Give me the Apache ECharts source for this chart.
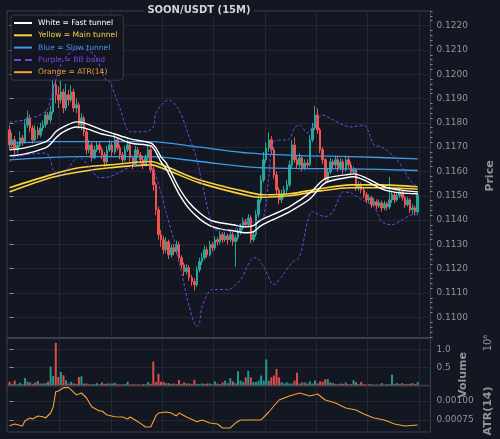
<!DOCTYPE html>
<html>
<head>
<meta charset="utf-8">
<script src="https://cdn.jsdelivr.net/npm/echarts@6/dist/echarts.min.js"></script>
<style>
  html, body { margin: 0; padding: 0; background: #131722; }
  #chart { width: 500px; height: 439px; }
</style>
</head>
<body>
<div id="chart"></div>
<script>
// one row per 15m candle: [open, close, low, high]
var candles = [
  [0.11771,0.11709,0.11690,0.11790],[0.11709,0.11730,0.11695,0.11760],[0.11730,0.11689,0.11670,0.11745],[0.11689,0.11709,0.11675,0.11725],
  [0.11709,0.11738,0.11700,0.11765],[0.11738,0.11722,0.11705,0.11750],[0.11722,0.11791,0.11715,0.11815],[0.11791,0.11820,0.11780,0.11850],
  [0.11820,0.11779,0.11760,0.11835],[0.11779,0.11730,0.11715,0.11790],[0.11730,0.11771,0.11722,0.11790],[0.11771,0.11750,0.11735,0.11785],
  [0.11750,0.11779,0.11740,0.11800],[0.11779,0.11791,0.11765,0.11810],[0.11791,0.11832,0.11780,0.11850],[0.11832,0.11812,0.11795,0.11845],
  [0.11812,0.11845,0.11800,0.11870],[0.11845,0.11956,0.11835,0.12025],[0.11956,0.11915,0.11880,0.12010],[0.11915,0.11894,0.11860,0.11950],
  [0.11894,0.11927,0.11880,0.11975],[0.11927,0.11861,0.11840,0.11940],[0.11861,0.11915,0.11850,0.11960],[0.11915,0.11894,0.11870,0.11935],
  [0.11894,0.11927,0.11885,0.11955],[0.11927,0.11861,0.11845,0.11940],[0.11861,0.11874,0.11840,0.11900],[0.11874,0.11791,0.11775,0.11885],
  [0.11791,0.11820,0.11770,0.11840],[0.11820,0.11763,0.11745,0.11830],[0.11763,0.11689,0.11670,0.11775],[0.11689,0.11709,0.11675,0.11730],
  [0.11709,0.11656,0.11640,0.11720],[0.11656,0.11689,0.11650,0.11705],[0.11689,0.11709,0.11680,0.11725],[0.11709,0.11689,0.11675,0.11720],
  [0.11689,0.11668,0.11650,0.11700],[0.11668,0.11639,0.11620,0.11680],[0.11639,0.11689,0.11630,0.11705],[0.11689,0.11709,0.11680,0.11730],
  [0.11709,0.11680,0.11660,0.11720],[0.11680,0.11730,0.11670,0.11750],[0.11730,0.11697,0.11685,0.11740],[0.11697,0.11668,0.11650,0.11710],
  [0.11668,0.11648,0.11630,0.11680],[0.11648,0.11689,0.11640,0.11705],[0.11689,0.11709,0.11680,0.11730],[0.11709,0.11656,0.11640,0.11720],
  [0.11656,0.11627,0.11610,0.11665],[0.11627,0.11689,0.11620,0.11705],[0.11689,0.11668,0.11655,0.11700],[0.11668,0.11648,0.11635,0.11680],
  [0.11648,0.11627,0.11610,0.11660],[0.11627,0.11656,0.11620,0.11670],[0.11656,0.11689,0.11645,0.11705],[0.11689,0.11607,0.11595,0.11700],
  [0.11607,0.11545,0.11520,0.11620],[0.11545,0.11442,0.11420,0.11555],[0.11442,0.11340,0.11320,0.11455],[0.11340,0.11319,0.11290,0.11360],
  [0.11319,0.11278,0.11260,0.11335],[0.11278,0.11311,0.11265,0.11330],[0.11311,0.11257,0.11240,0.11320],[0.11257,0.11286,0.11245,0.11300],
  [0.11286,0.11270,0.11255,0.11300],[0.11270,0.11299,0.11260,0.11315],[0.11299,0.11245,0.11230,0.11310],[0.11245,0.11216,0.11200,0.11255],
  [0.11216,0.11188,0.11170,0.11225],[0.11188,0.11204,0.11175,0.11220],[0.11204,0.11163,0.11150,0.11215],[0.11163,0.11147,0.11130,0.11175],
  [0.11147,0.11134,0.11110,0.11160],[0.11134,0.11196,0.11125,0.11210],[0.11196,0.11229,0.11185,0.11245],[0.11229,0.11245,0.11215,0.11265],
  [0.11245,0.11278,0.11235,0.11295],[0.11278,0.11257,0.11245,0.11290],[0.11257,0.11299,0.11250,0.11315],[0.11299,0.11286,0.11270,0.11310],
  [0.11286,0.11319,0.11275,0.11335],[0.11319,0.11311,0.11295,0.11330],[0.11311,0.11340,0.11300,0.11355],[0.11340,0.11319,0.11305,0.11350],
  [0.11319,0.11335,0.11310,0.11350],[0.11335,0.11319,0.11300,0.11345],[0.11319,0.11340,0.11310,0.11355],[0.11340,0.11311,0.11295,0.11350],
  [0.11311,0.11327,0.11208,0.11340],[0.11327,0.11352,0.11315,0.11365],[0.11352,0.11368,0.11340,0.11385],[0.11368,0.11393,0.11360,0.11410],
  [0.11393,0.11381,0.11370,0.11405],[0.11381,0.11409,0.11375,0.11425],[0.11409,0.11319,0.11305,0.11420],[0.11319,0.11340,0.11310,0.11355],
  [0.11340,0.11422,0.11330,0.11440],[0.11422,0.11483,0.11410,0.11500],[0.11483,0.11565,0.11470,0.11585],[0.11565,0.11648,0.11555,0.11680],
  [0.11648,0.11697,0.11635,0.11720],[0.11697,0.11730,0.11680,0.11760],[0.11730,0.11689,0.11670,0.11745],[0.11689,0.11586,0.11570,0.11700],
  [0.11586,0.11524,0.11505,0.11600],[0.11524,0.11483,0.11465,0.11535],[0.11483,0.11504,0.11470,0.11525],[0.11504,0.11524,0.11490,0.11540],
  [0.11524,0.11545,0.11510,0.11565],[0.11545,0.11627,0.11535,0.11645],[0.11627,0.11709,0.11615,0.11730],[0.11709,0.11648,0.11635,0.11740],
  [0.11648,0.11627,0.11610,0.11665],[0.11627,0.11656,0.11615,0.11675],[0.11656,0.11615,0.11600,0.11665],[0.11615,0.11635,0.11605,0.11650],
  [0.11635,0.11627,0.11610,0.11650],[0.11627,0.11730,0.11620,0.11750],[0.11730,0.11779,0.11720,0.11800],[0.11779,0.11832,0.11770,0.11870],
  [0.11832,0.11771,0.11755,0.11860],[0.11771,0.11689,0.11675,0.11780],[0.11689,0.11648,0.11630,0.11700],[0.11648,0.11565,0.11550,0.11655],
  [0.11565,0.11598,0.11555,0.11615],[0.11598,0.11639,0.11590,0.11655],[0.11639,0.11627,0.11610,0.11650],[0.11627,0.11648,0.11615,0.11665],
  [0.11648,0.11615,0.11600,0.11660],[0.11615,0.11639,0.11605,0.11655],[0.11639,0.11607,0.11590,0.11650],[0.11607,0.11648,0.11600,0.11665],
  [0.11648,0.11627,0.11615,0.11660],[0.11627,0.11598,0.11585,0.11640],[0.11598,0.11607,0.11590,0.11620],[0.11607,0.11533,0.11520,0.11615],
  [0.11533,0.11545,0.11520,0.11560],[0.11545,0.11524,0.11510,0.11555],[0.11524,0.11504,0.11490,0.11535],[0.11504,0.11483,0.11470,0.11515],
  [0.11483,0.11492,0.11470,0.11505],[0.11492,0.11463,0.11450,0.11500],[0.11463,0.11475,0.11455,0.11490],[0.11475,0.11459,0.11445,0.11485],
  [0.11459,0.11471,0.11450,0.11485],[0.11471,0.11450,0.11435,0.11480],[0.11450,0.11467,0.11440,0.11480],[0.11467,0.11454,0.11440,0.11475],
  [0.11454,0.11483,0.11445,0.11578],[0.11483,0.11504,0.11470,0.11520],[0.11504,0.11483,0.11470,0.11515],[0.11483,0.11500,0.11475,0.11515],
  [0.11500,0.11516,0.11490,0.11530],[0.11516,0.11492,0.11480,0.11525],[0.11492,0.11463,0.11450,0.11500],[0.11463,0.11483,0.11455,0.11495],
  [0.11483,0.11442,0.11430,0.11490],[0.11442,0.11450,0.11425,0.11465],[0.11450,0.11434,0.11420,0.11460],[0.11434,0.11504,0.11425,0.11520]
];

// volume in millions, one per candle
var volumes = [
  0.10,0.04,0.13,0.03,0.07,0.03,0.20,0.10,0.08,0.04,0.08,0.12,0.05,0.05,0.06,0.10,0.52,0.26,1.18,0.23,
  0.37,0.28,0.14,0.05,0.10,0.05,0.04,0.23,0.25,0.05,0.05,0.03,0.03,0.03,0.06,0.03,0.08,0.04,0.05,0.05,
  0.05,0.07,0.03,0.02,0.03,0.03,0.10,0.02,0.03,0.02,0.03,0.02,0.03,0.03,0.09,0.04,0.66,0.09,0.32,0.10,
  0.10,0.06,0.06,0.04,0.05,0.03,0.15,0.04,0.08,0.05,0.05,0.04,0.15,0.04,0.03,0.05,0.04,0.05,0.05,0.03,
  0.11,0.05,0.03,0.08,0.13,0.06,0.20,0.11,0.06,0.39,0.13,0.09,0.22,0.40,0.22,0.09,0.09,0.13,0.27,0.13,
  0.72,0.13,0.22,0.27,0.45,0.22,0.09,0.05,0.08,0.05,0.05,0.13,0.35,0.05,0.08,0.08,0.05,0.11,0.05,0.13,
  0.05,0.11,0.10,0.17,0.17,0.08,0.06,0.04,0.03,0.05,0.04,0.08,0.03,0.03,0.14,0.09,0.03,0.09,0.03,0.02,
  0.03,0.03,0.02,0.02,0.02,0.06,0.02,0.03,0.03,0.29,0.04,0.06,0.03,0.06,0.03,0.03,0.04,0.06,0.03,0.09
];

// indicator lines: [candle index, value]
var fastUpper = [[0,0.11689],[6,0.11697],[14,0.11722],[16,0.11738],[18,0.11763],[21,0.11783],[26,0.11804],[29,0.11800],[36,0.11771],[41,0.11754],[47,0.11734],[55,0.11717],[57,0.11697],[59,0.11660],[61,0.11635],[63,0.11594],[66,0.11533],[70,0.11471],[74,0.11430],[78,0.11401],[82,0.11389],[87,0.11381],[92,0.11372],[95,0.11377],[98,0.11401],[105,0.11434],[109,0.11454],[117,0.11512],[123,0.11570],[131,0.11586],[134,0.11590],[138,0.11578],[146,0.11537],[152,0.11524],[159,0.11516]];
var fastLower = [[0,0.11664],[6,0.11672],[14,0.11697],[16,0.11713],[18,0.11738],[21,0.11763],[26,0.11783],[29,0.11779],[36,0.11754],[41,0.11742],[47,0.11717],[55,0.11705],[57,0.11680],[59,0.11639],[61,0.11611],[63,0.11570],[66,0.11508],[70,0.11446],[74,0.11405],[78,0.11377],[82,0.11364],[87,0.11356],[92,0.11348],[95,0.11352],[98,0.11377],[105,0.11413],[109,0.11434],[117,0.11487],[123,0.11553],[131,0.11574],[134,0.11578],[138,0.11565],[146,0.11524],[152,0.11512],[159,0.11508]];
var mainUpper = [[0,0.11533],[16,0.11586],[27,0.11615],[39,0.11627],[55,0.11641],[61,0.11620],[74,0.11565],[94,0.11512],[99,0.11504],[109,0.11508],[121,0.11529],[133,0.11545],[144,0.11545],[159,0.11537]];
var mainLower = [[0,0.11516],[16,0.11574],[27,0.11598],[39,0.11615],[55,0.11627],[61,0.11607],[74,0.11553],[94,0.11498],[99,0.11494],[109,0.11500],[121,0.11520],[133,0.11533],[144,0.11533],[159,0.11527]];
var slowUpper = [[0,0.11716],[16,0.11723],[55,0.11723],[74,0.11700],[94,0.11675],[113,0.11665],[133,0.11661],[159,0.11652]];
var slowLower = [[0,0.11648],[27,0.11661],[55,0.11661],[74,0.11641],[94,0.11618],[113,0.11612],[133,0.11611],[159,0.11604]];
var bbUpper = [[0,0.11804],[6,0.11812],[14,0.11845],[16,0.11894],[18,0.11976],[21,0.12058],[27,0.12108],[33,0.12079],[37,0.11984],[39,0.11968],[43,0.11861],[47,0.11763],[53,0.11763],[56,0.11783],[57,0.11841],[60,0.11882],[62,0.11894],[66,0.11853],[70,0.11742],[73,0.11648],[75,0.11553],[78,0.11414],[80,0.11360],[87,0.11360],[92,0.11401],[94,0.11389],[96,0.11393],[99,0.11414],[101,0.11578],[103,0.11722],[109,0.11734],[111,0.11779],[113,0.11791],[116,0.11758],[119,0.11800],[122,0.11832],[126,0.11812],[133,0.11783],[138,0.11791],[142,0.11709],[145,0.11701],[151,0.11648],[156,0.11565],[159,0.11533]];
var bbLower = [[0,0.11639],[2,0.11660],[14,0.11676],[16,0.11648],[17,0.11607],[20,0.11586],[27,0.11660],[31,0.11619],[35,0.11574],[39,0.11578],[41,0.11586],[47,0.11619],[53,0.11635],[56,0.11607],[59,0.11512],[61,0.11430],[64,0.11319],[67,0.11184],[70,0.11044],[73,0.10962],[74,0.10978],[75,0.11044],[79,0.11114],[85,0.11114],[90,0.11155],[94,0.11237],[96,0.11245],[99,0.11208],[103,0.11134],[106,0.11167],[110,0.11225],[113,0.11249],[118,0.11434],[123,0.11414],[126,0.11434],[130,0.11516],[133,0.11512],[136,0.11492],[142,0.11454],[145,0.11393],[149,0.11381],[153,0.11401],[157,0.11422],[159,0.11422]];
var atr = [[0,0.000675],[2,0.000697],[5,0.000671],[6,0.000741],[8,0.000776],[9,0.000763],[11,0.000803],[13,0.000793],[14,0.000776],[16,0.000842],[17,0.000921],[18,0.001122],[19,0.001132],[21,0.001175],[23,0.001175],[24,0.001145],[26,0.001079],[28,0.001105],[30,0.001039],[32,0.000925],[35,0.000868],[36,0.000868],[38,0.000816],[41,0.000793],[44,0.000789],[46,0.000763],[47,0.000789],[50,0.000728],[53,0.000658],[55,0.000658],[57,0.000803],[58,0.000842],[61,0.000855],[63,0.000842],[65,0.000803],[66,0.000842],[69,0.000789],[73,0.000728],[75,0.000750],[78,0.000710],[81,0.000697],[83,0.000645],[86,0.000645],[88,0.000710],[90,0.000750],[93,0.000750],[98,0.000750],[101,0.000855],[105,0.001013],[109,0.001066],[113,0.001105],[117,0.001066],[120,0.001092],[123,0.001013],[127,0.000974],[131,0.000908],[135,0.000882],[138,0.000829],[142,0.000776],[146,0.000750],[150,0.000697],[154,0.000671],[159,0.000684]];

var priceTicks = [0.110,0.111,0.112,0.113,0.114,0.115,0.116,0.117,0.118,0.119,0.120,0.121,0.122];
var volumeTicks = [0.5, 1.0];
var atrTicks = [0.00075, 0.00100];
var timeGrid = [19.5,39.5,59.5,79.5,99.5,119.5,139.5,159.5];

var UP = '#26a69a', DOWN = '#ef5350';
var AXIS_TXT = '#8f939c', GRID_LINE = '#232734', BORDER = '#3c404b';

var priceMinor = [];
for (var k = 1092; k <= 1226; k += 2) {
  if (k % 10 !== 0) priceMinor.push(k / 10000);
}

var myChart = echarts.init(document.getElementById('chart'));

function xAxisFor(g) {
  return {
    type: 'value', gridIndex: g, min: -1, max: 164,
    axisLine: {show: false},
    axisTick: {show: false, customValues: timeGrid},
    axisLabel: {show: false},
    splitLine: {show: true, lineStyle: {color: GRID_LINE, width: 1}}
  };
}

function yAxisFor(g, min, max, ticks, digits) {
  return {
    type: 'value', gridIndex: g, position: 'right', min: min, max: max,
    axisLine: {show: false},
    axisTick: {show: true, customValues: ticks, length: 4, lineStyle: {color: AXIS_TXT}},
    axisLabel: {
      customValues: ticks, color: AXIS_TXT, fontSize: 9, margin: 6,
      fontFamily: 'DejaVu Sans',
      formatter: function (v) { return v.toFixed(digits); }
    },
    splitLine: {show: true, lineStyle: {color: GRID_LINE, width: 1}}
  };
}

function tunnel(name, data, color, width, dashed) {
  return {
    name: name, type: 'line', xAxisIndex: 0, yAxisIndex: 0,
    data: data, symbol: 'none', smooth: 0.3, z: 5,
    lineStyle: {color: color, width: width, type: dashed ? [3, 2] : 'solid'},
    itemStyle: {color: color}
  };
}

var names = ['White = Fast tunnel', 'Yellow = Main tunnel', 'Blue = Slow tunnel', 'Purple = BB band', 'Orange = ATR(14)'];
var colors = ['#ffffff', '#f7d23e', '#3d9be9', '#7047e0', '#f4a232'];
var icons = ['rect', 'rect', 'rect', 'path://M0 0H7V2H0Z M11 0H18V2H11Z', 'rect'];

var option = {
  backgroundColor: '#131722',
  animation: false,
  textStyle: {fontFamily: 'DejaVu Sans'},
  grid: [
    {left: 7, right: 69.5, top: 11, height: 326.5, show: true, borderColor: BORDER, borderWidth: 1},
    {left: 7, right: 69.5, top: 338.5, height: 46.8, show: true, borderColor: BORDER, borderWidth: 1},
    {left: 7, right: 69.5, top: 386, height: 46, show: true, borderColor: BORDER, borderWidth: 1}
  ],
  legend: {
    left: 11, top: 15, orient: 'vertical',
    padding: [3, 6, 3, 3], itemGap: 2.3, itemWidth: 18, itemHeight: 2,
    backgroundColor: 'rgba(19,23,34,0.92)', borderColor: '#363a45', borderWidth: 1, borderRadius: 3,
    textStyle: {fontSize: 7.6, fontFamily: 'DejaVu Sans', lineHeight: 10, padding: [0, 0, 0, 1]},
    data: names.map(function (n, i) {
      return {name: n, icon: icons[i], itemStyle: {color: colors[i]}, textStyle: {color: colors[i]}};
    })
  },
  xAxis: [xAxisFor(0), xAxisFor(1), xAxisFor(2)],
  yAxis: [
    yAxisFor(0, 0.10917, 0.12260, priceTicks, 4),
    {
      type: 'value', gridIndex: 0, position: 'right', min: 0.10917, max: 0.12260,
      axisLine: {show: false}, axisLabel: {show: false}, splitLine: {show: false},
      axisTick: {show: true, customValues: priceMinor, length: 2, lineStyle: {color: AXIS_TXT}}
    },
    yAxisFor(1, 0, 1.3, volumeTicks, 1),
    yAxisFor(2, 0.000592, 0.001197, atrTicks, 5)
  ],
  graphic: [
    {type: 'text', x: 199, y: 10.5, z: 100, style: {text: 'SOON/USDT (15M)', fill: '#d1d4dc', font: 'bold 10px "DejaVu Sans"', align: 'center', verticalAlign: 'middle', backgroundColor: '#131722', padding: [1, 3]}},
    {type: 'text', x: 490, y: 176, rotation: Math.PI / 2, style: {text: 'Price', fill: AXIS_TXT, font: 'bold 11px "DejaVu Sans"', align: 'center', verticalAlign: 'middle'}},
    {type: 'text', x: 463, y: 375, rotation: Math.PI / 2, style: {text: 'Volume', fill: AXIS_TXT, font: 'bold 11px "DejaVu Sans"', align: 'center', verticalAlign: 'middle'}},
    {type: 'text', x: 488, y: 343, rotation: Math.PI / 2, style: {text: '10⁶', fill: AXIS_TXT, font: '10px "DejaVu Sans"', align: 'center', verticalAlign: 'middle'}},
    {type: 'text', x: 488, y: 411, rotation: Math.PI / 2, style: {text: 'ATR(14)', fill: AXIS_TXT, font: 'bold 11px "DejaVu Sans"', align: 'center', verticalAlign: 'middle'}}
  ],
  series: [
    {
      type: 'candlestick', xAxisIndex: 0, yAxisIndex: 0, barWidth: 2, z: 2,
      data: candles.map(function (r, i) { return [i, r[0], r[1], r[2], r[3]]; }),
      itemStyle: {color: UP, color0: DOWN, borderColor: UP, borderColor0: DOWN, borderWidth: 1}
    },
    tunnel(names[2], slowUpper, colors[2], 1.3),
    tunnel(names[2], slowLower, colors[2], 1.3),
    tunnel(names[1], mainUpper, colors[1], 1.6),
    tunnel(names[1], mainLower, colors[1], 1.6),
    tunnel(names[0], fastUpper, colors[0], 1.4),
    tunnel(names[0], fastLower, colors[0], 1.4),
    tunnel(names[3], bbUpper, colors[3], 1, true),
    tunnel(names[3], bbLower, colors[3], 1, true),
    {
      type: 'bar', xAxisIndex: 1, yAxisIndex: 2, barWidth: 2,
      data: volumes.map(function (v, i) {
        var up = candles[i][1] >= candles[i][0];
        return {value: [i, v], itemStyle: {color: up ? UP : DOWN, opacity: 0.9}};
      })
    },
    {
      name: names[4], type: 'line', xAxisIndex: 2, yAxisIndex: 3,
      data: atr, symbol: 'none',
      lineStyle: {color: colors[4], width: 1.1}, itemStyle: {color: colors[4]}
    }
  ]
};

myChart.setOption(option);
</script>
</body>
</html>
